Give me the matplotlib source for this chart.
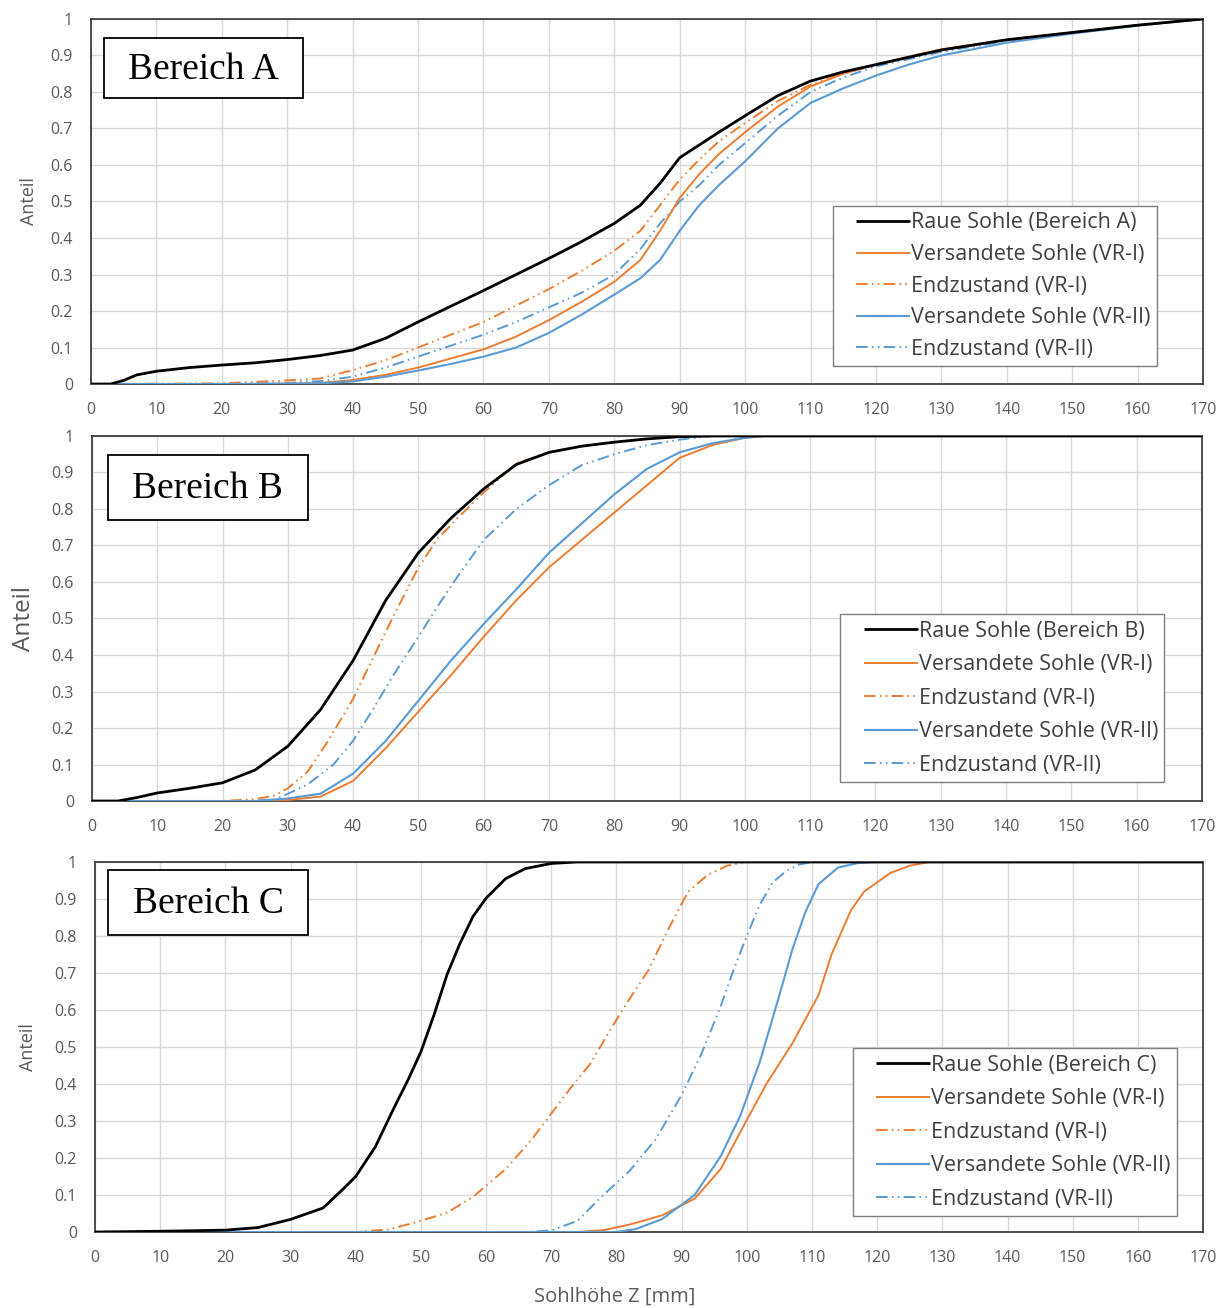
import matplotlib
matplotlib.use("Agg")
import numpy as np
import matplotlib.pyplot as plt
from matplotlib.patches import Rectangle
from matplotlib.legend_handler import HandlerLine2D

# ---------------- data ----------------
# Bereich A
A_x_raue = [0, 3, 5, 7, 10, 15, 20, 25, 30, 35, 40, 45, 50, 55, 60, 65, 70, 75, 80, 84, 87, 90, 93, 96,
            100, 105, 110, 115, 120, 125, 130, 140, 150, 160, 170]
A_y_raue = [0, 0, 0.01, 0.025, 0.035, 0.045, 0.052, 0.058, 0.067, 0.078, 0.093, 0.125, 0.17, 0.213, 0.256,
            0.3, 0.344, 0.39, 0.44, 0.49, 0.55, 0.62, 0.655, 0.69, 0.735, 0.79, 0.83, 0.855, 0.875, 0.895,
            0.915, 0.943, 0.963, 0.983, 1.0]
A_x = [0, 20, 30, 35, 40, 45, 50, 55, 60, 65, 70, 75, 80, 84, 87, 90, 93, 96, 100, 105, 110, 115, 120,
       125, 130, 140, 150, 160, 170]
A_y_vs1 = [0, 0, 0.001, 0.003, 0.011, 0.025, 0.045, 0.07, 0.095, 0.13, 0.175, 0.225, 0.28, 0.34, 0.42,
           0.51, 0.575, 0.63, 0.69, 0.76, 0.815, 0.85, 0.875, 0.897, 0.917, 0.943, 0.963, 0.983, 1.0]
A_y_end1 = [0, 0.002, 0.01, 0.015, 0.038, 0.065, 0.1, 0.135, 0.17, 0.215, 0.26, 0.31, 0.365, 0.42, 0.49,
            0.56, 0.615, 0.665, 0.715, 0.775, 0.82, 0.85, 0.875, 0.895, 0.915, 0.943, 0.963, 0.983, 1.0]
A_y_vs2 = [0, 0, 0.001, 0.002, 0.007, 0.02, 0.037, 0.055, 0.075, 0.1, 0.14, 0.19, 0.245, 0.29, 0.34,
           0.42, 0.49, 0.545, 0.61, 0.7, 0.77, 0.81, 0.845, 0.875, 0.9, 0.935, 0.96, 0.982, 1.0]
A_y_end2 = [0, 0, 0.003, 0.008, 0.02, 0.045, 0.075, 0.105, 0.135, 0.17, 0.21, 0.25, 0.3, 0.37, 0.44,
            0.5, 0.545, 0.6, 0.66, 0.735, 0.8, 0.84, 0.87, 0.89, 0.91, 0.94, 0.962, 0.982, 1.0]

# Bereich B
B_x_raue = [0, 4, 7, 10, 15, 20, 25, 30, 35, 40, 45, 50, 55, 60, 65, 70, 75, 80, 85, 90, 95, 170]
B_y_raue = [0, 0, 0.01, 0.022, 0.035, 0.05, 0.085, 0.15, 0.25, 0.385, 0.55, 0.68, 0.775, 0.855, 0.922,
            0.955, 0.972, 0.983, 0.992, 0.998, 1.0, 1.0]
B_x_vs1 = [0, 28, 30, 35, 40, 45, 50, 55, 60, 65, 70, 75, 80, 85, 90, 95, 100, 103, 170]
B_y_vs1 = [0, 0, 0.003, 0.012, 0.055, 0.145, 0.245, 0.345, 0.45, 0.55, 0.64, 0.715, 0.79, 0.865, 0.94,
           0.975, 0.995, 1.0, 1.0]
B_x_end1 = [0, 20, 25, 28, 30, 33, 36, 40, 43, 46, 50, 53, 56, 60, 65, 70, 75, 80, 85, 90, 95, 170]
B_y_end1 = [0, 0, 0.005, 0.015, 0.035, 0.08, 0.16, 0.28, 0.39, 0.5, 0.64, 0.72, 0.775, 0.845, 0.925,
            0.955, 0.972, 0.983, 0.992, 0.998, 1.0, 1.0]
B_x_vs2 = [0, 25, 30, 35, 40, 45, 50, 55, 60, 65, 70, 75, 80, 85, 90, 95, 100, 103, 170]
B_y_vs2 = [0, 0, 0.007, 0.02, 0.075, 0.165, 0.275, 0.385, 0.485, 0.58, 0.68, 0.76, 0.84, 0.91, 0.955,
           0.98, 0.995, 1.0, 1.0]
B_x_end2 = [0, 25, 28, 30, 33, 37, 40, 43, 46, 50, 53, 56, 60, 65, 70, 75, 80, 85, 90, 95, 170]
B_y_end2 = [0, 0, 0.005, 0.02, 0.045, 0.1, 0.165, 0.25, 0.34, 0.45, 0.535, 0.615, 0.715, 0.8, 0.865,
            0.92, 0.95, 0.975, 0.99, 1.0, 1.0]

# Bereich C
C_x_raue = [0, 10, 20, 25, 30, 35, 38, 40, 43, 46, 48, 50, 52, 54, 56, 58, 60, 63, 66, 70, 74, 170]
C_y_raue = [0, 0.002, 0.005, 0.012, 0.034, 0.065, 0.115, 0.15, 0.23, 0.34, 0.41, 0.487, 0.586, 0.695,
            0.78, 0.853, 0.902, 0.955, 0.982, 0.996, 1.0, 1.0]
C_x_vs1 = [0, 74, 78, 82, 87, 92, 96, 99, 103, 107, 111, 113, 116, 118, 122, 125, 128, 170]
C_y_vs1 = [0, 0, 0.005, 0.02, 0.045, 0.09, 0.17, 0.27, 0.4, 0.51, 0.64, 0.75, 0.87, 0.92, 0.97, 0.99,
           1.0, 1.0]
C_x_end1 = [0, 40, 45, 49, 54, 58, 63, 67, 70, 73, 76, 79, 82, 85, 88, 91, 94, 97, 100, 170]
C_y_end1 = [0, 0, 0.007, 0.025, 0.052, 0.095, 0.17, 0.25, 0.32, 0.39, 0.455, 0.545, 0.63, 0.71, 0.82,
            0.92, 0.965, 0.99, 1.0, 1.0]
C_x_vs2 = [0, 80, 83, 87, 92, 96, 99, 102, 105, 107, 109, 111, 114, 117, 120, 170]
C_y_vs2 = [0, 0, 0.008, 0.035, 0.1, 0.205, 0.314, 0.46, 0.64, 0.764, 0.865, 0.94, 0.985, 0.997, 1.0, 1.0]
C_x_end2 = [0, 66, 70, 74, 78, 82, 86, 90, 93, 96, 98, 100, 102, 104, 106, 108, 110, 170]
C_y_end2 = [0, 0, 0.004, 0.03, 0.1, 0.165, 0.25, 0.37, 0.48, 0.61, 0.71, 0.8, 0.885, 0.945, 0.975,
            0.993, 1.0, 1.0]

x_ticks = list(range(0, 171, 10))
y_ticks = [0, 0.1, 0.2, 0.3, 0.4, 0.5, 0.6, 0.7, 0.8, 0.9, 1]
y_ticklabels = ["0", "0.1", "0.2", "0.3", "0.4", "0.5", "0.6", "0.7", "0.8", "0.9", "1"]

panel_names = ["Bereich A", "Bereich B", "Bereich C"]
legend_labels = {
    "A": ["Raue Sohle (Bereich A)", "Versandete Sohle (VR-I)", "Endzustand (VR-I)",
          "Versandete Sohle (VR-II)", "Endzustand (VR-II)"],
    "B": ["Raue Sohle (Bereich B)", "Versandete Sohle (VR-I)", "Endzustand (VR-I)",
          "Versandete Sohle (VR-II)", "Endzustand (VR-II)"],
    "C": ["Raue Sohle (Bereich C)", "Versandete Sohle (VR-I)", "Endzustand (VR-I)",
          "Versandete Sohle (VR-II)", "Endzustand (VR-II)"],
}
x_label = "Sohlhöhe Z [mm]"
y_label = "Anteil"

# ---------------- style ----------------
BLACK = "#000000"
ORANGE = "#ED7D31"
BLUE = "#5B9BD5"
GRID = "#D9D9D9"
TXT = "#595959"
FONT = "Open Sans"
DD = (6, 2.2, 0.8, 2.2, 0.8, 2.2)


class InsetLineHandler(HandlerLine2D):
    """Legend line that only occupies the right part of the handle box."""
    def get_xdata(self, legend, xdescent, ydescent, width, height, fontsize):
        xd, xm = super().get_xdata(legend, xdescent, ydescent, width, height, fontsize)
        x0 = -xdescent + 0.24 * width
        x1 = -xdescent + width
        return np.linspace(x0, x1, len(xd)), np.linspace(x0, x1, len(xm))


fig = plt.figure(figsize=(12.21, 13.08), dpi=100)

panels = [
    dict(key="A", rect=[0.0745, 0.7064, 0.9108, 0.2791],
         series=[(A_x_raue, A_y_raue), (A_x, A_y_vs1), (A_x, A_y_end1), (A_x, A_y_vs2), (A_x, A_y_end2)],
         box=(0.0117, 0.784, 0.179, 0.164), txt=(0.101, 0.862),
         leg=(0.667, 0.049), ls=0.49, ylab_size=13, ylab_x=-0.048),
    dict(key="B", rect=[0.0753, 0.3876, 0.9091, 0.2791],
         series=[(B_x_raue, B_y_raue), (B_x_vs1, B_y_vs1), (B_x_end1, B_y_end1), (B_x_vs2, B_y_vs2),
                 (B_x_end2, B_y_end2)],
         box=(0.0144, 0.77, 0.18, 0.178), txt=(0.1045, 0.855),
         leg=(0.674, 0.052), ls=0.58, ylab_size=17.5, ylab_x=-0.05),
    dict(key="C", rect=[0.0778, 0.0581, 0.9075, 0.2829],
         series=[(C_x_raue, C_y_raue), (C_x_vs1, C_y_vs1), (C_x_end1, C_y_end1), (C_x_vs2, C_y_vs2),
                 (C_x_end2, C_y_end2)],
         box=(0.0117, 0.803, 0.1805, 0.176), txt=(0.102, 0.886),
         leg=(0.684, 0.043), ls=0.58, ylab_size=13, ylab_x=-0.052),
]

styles = [
    dict(color=BLACK, lw=2.0, dashes=None, z=6),
    dict(color=ORANGE, lw=1.4, dashes=None, z=4),
    dict(color=ORANGE, lw=1.4, dashes=DD, z=3),
    dict(color=BLUE, lw=1.5, dashes=None, z=5),
    dict(color=BLUE, lw=1.4, dashes=DD, z=3),
]

for i, p in enumerate(panels):
    ax = fig.add_axes(p["rect"])
    handles = []
    for (xs, ys), st, lab in zip(p["series"], styles, legend_labels[p["key"]]):
        ln, = ax.plot(xs, ys, color=st["color"], lw=st["lw"], zorder=st["z"], label=lab,
                      solid_capstyle="butt")
        if st["dashes"] is not None:
            ln.set_dashes(st["dashes"])
        handles.append(ln)
    ax.set_xlim(0, 170)
    ax.set_ylim(0, 1)
    ax.set_xticks(x_ticks)
    ax.set_yticks(y_ticks)
    ax.set_yticklabels(y_ticklabels)
    ax.grid(True, color=GRID, lw=1.0, zorder=0)
    ax.set_axisbelow(True)
    ax.tick_params(length=0, pad=13, labelsize=11.5, labelcolor=TXT)
    for lbl in ax.get_xticklabels() + ax.get_yticklabels():
        lbl.set_family(FONT)
    for s in ax.spines.values():
        s.set_color("#404040")
        s.set_linewidth(1.3)
    ax.set_ylabel(y_label, fontsize=p["ylab_size"], color=TXT, family=FONT)
    ax.yaxis.set_label_coords(p["ylab_x"], 0.5)

    bx, by, bw, bh = p["box"]
    ax.add_patch(Rectangle((bx, by), bw, bh, transform=ax.transAxes, facecolor="white",
                           edgecolor="black", lw=1.3, zorder=10))
    ax.text(p["txt"][0], p["txt"][1], panel_names[i], transform=ax.transAxes, ha="center",
            va="center", fontsize=27, family="Liberation Serif", zorder=11)

    leg = ax.legend(handles=handles, loc="lower left", bbox_to_anchor=p["leg"], borderaxespad=0,
                    prop={"family": FONT, "size": 15.5}, labelcolor="#404040",
                    frameon=True, fancybox=False, edgecolor="#7F7F7F", framealpha=1,
                    handlelength=3.3, handletextpad=0.05, labelspacing=p["ls"],
                    borderpad=0.3, handler_map={h: InsetLineHandler() for h in handles})
    leg.get_frame().set_linewidth(1.0)
    leg.set_zorder(12)
    if i == 2:
        ax.set_xlabel(x_label, fontsize=14.5, color=TXT, family=FONT, va="center")
        ax.xaxis.set_label_coords(0.469, -0.175)

fig.savefig("out.png", dpi=100, facecolor="white")
